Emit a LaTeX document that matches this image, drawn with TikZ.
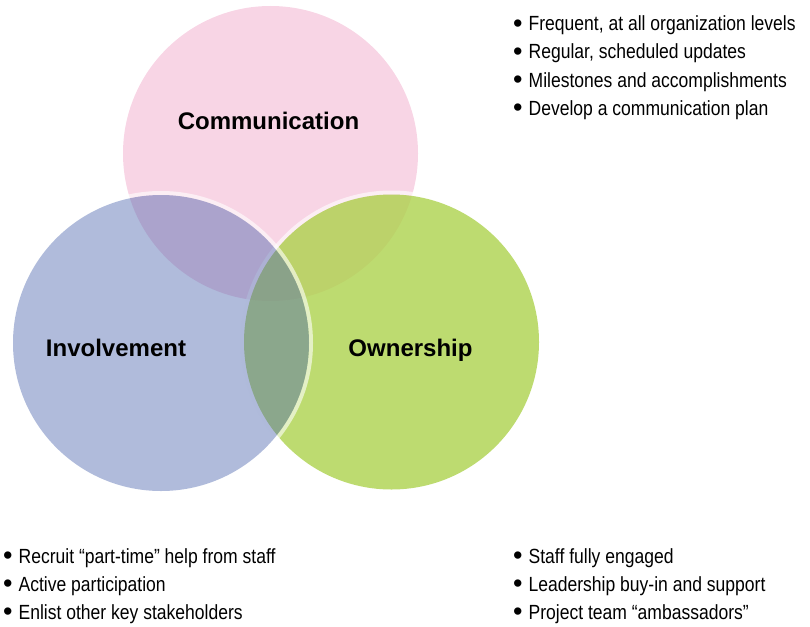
\documentclass[tikz,border=0pt]{standalone}
\usepackage{fontspec}
\setmainfont{Liberation Sans}
\newfontfamily\condfont[FakeStretch=0.855]{Liberation Sans}
\newfontfamily\dotfont{Liberation Sans}
\definecolor{commpink}{RGB}{248,213,229}
\definecolor{ownergreen}{RGB}{173,210,76}
\definecolor{involveblue}{RGB}{79,104,175}
\tikzset{
  ring/.style={draw=white, draw opacity=0.6, line width=4pt},
  heading/.style={anchor=base, inner sep=0pt, font=\fontsize{24}{28}\selectfont\bfseries},
  bulletline/.style={anchor=base west, inner sep=0pt, font=\condfont\fontsize{20.5}{28}\selectfont},
}
\newcommand{\bitem}[1]{{\dotfont\fontsize{27}{28}\selectfont\raisebox{-1.5pt}{•}}\hspace{6pt}#1}
\begin{document}
\begin{tikzpicture}[x=1pt, y=-1pt]
  \useasboundingbox (0,0) rectangle (810,626);

  % circle centres
  \coordinate (cComm) at (270.5,153.5);
  \coordinate (cInv)  at (161,343);
  \coordinate (cOwn)  at (391.5,342);

  % Communication (bottom layer)
  \fill[commpink] (cComm) circle (147.5);
  % Ownership
  \path[ring] (cOwn) circle (149.5);
  \fill[ownergreen, fill opacity=0.8] (cOwn) circle (147.5);
  % Involvement (top layer)
  \path[ring] (cInv) circle (150);
  \fill[involveblue, fill opacity=0.45] (cInv) circle (148);

  % headings
  \node[heading] (comm) at (268.5,129) {Communication};
  \node[heading] (inv)  at (116,356)   {Involvement};
  \node[heading] (own)  at (410.5,356) {Ownership};

  % Communication notes
  \node[bulletline] (c1) at (513,31)  {\bitem{Frequent, at all organization levels}};
  \node[bulletline] (c2) at (513,59)  {\bitem{Regular, scheduled updates}};
  \node[bulletline] (c3) at (513,87)  {\bitem{Milestones and accomplishments}};
  \node[bulletline] (c4) at (513,115) {\bitem{Develop a communication plan}};

  % Involvement notes
  \node[bulletline] (i1) at (3,563) {\bitem{Recruit “part-time” help from staff}};
  \node[bulletline] (i2) at (3,591) {\bitem{Active participation}};
  \node[bulletline] (i3) at (3,619) {\bitem{Enlist other key stakeholders}};

  % Ownership notes
  \node[bulletline] (o1) at (513,563) {\bitem{Staff fully engaged}};
  \node[bulletline] (o2) at (513,591) {\bitem{Leadership buy-in and support}};
  \node[bulletline] (o3) at (513,619) {\bitem{Project team “ambassadors”}};
\end{tikzpicture}
\end{document}
